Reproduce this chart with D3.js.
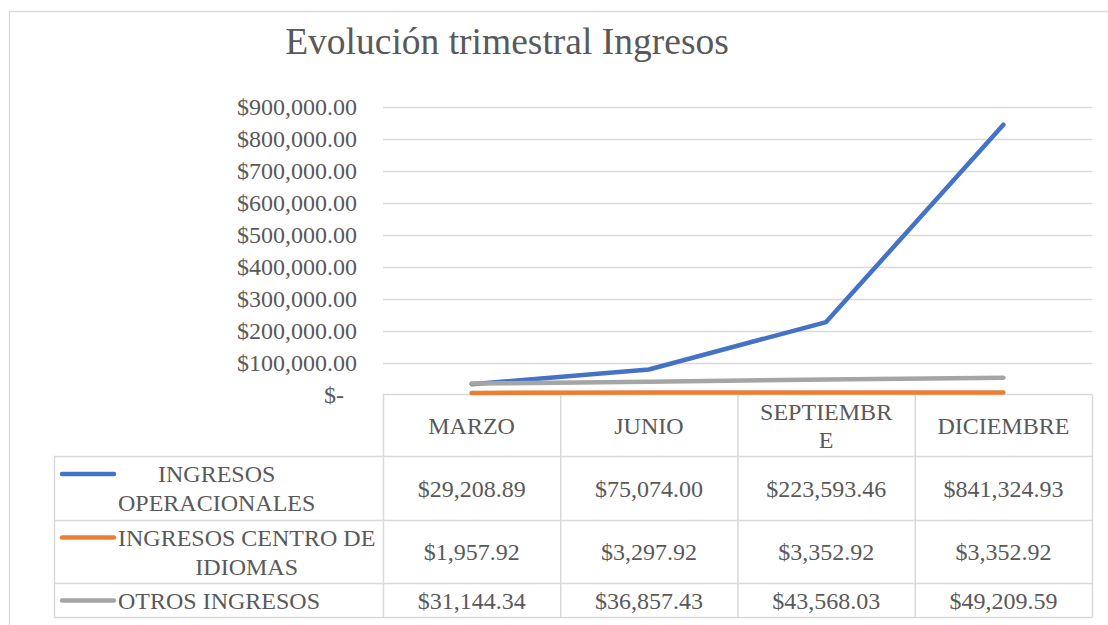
<!DOCTYPE html>
<html>
<head>
<meta charset="utf-8">
<script src="https://cdn.jsdelivr.net/npm/d3@7"></script>
<style>
  body { margin: 0; background: #fff; }
  text { font-family: "Liberation Serif", "Times New Roman", serif; fill: #595959; }
</style>
</head>
<body>
<script>
'use strict';

var width = 1108,
    height = 625;

// data
var categories = ["MARZO", "JUNIO", "SEPTIEMBRE", "DICIEMBRE"];
var seriesNames = ["INGRESOS OPERACIONALES", "INGRESOS CENTRO DE IDIOMAS", "OTROS INGRESOS"];
var seriesColors = ["#4472C4", "#ED7D31", "#A5A5A5"];
var operacionales = [29208.89, 75074.00, 223593.46, 841324.93];
var centroIdiomas = [1957.92, 3297.92, 3352.92, 3352.92];
var otrosIngresos = [31144.34, 36857.43, 43568.03, 49209.59];
var yTicks = [0, 100000, 200000, 300000, 400000, 500000, 600000, 700000, 800000, 900000];
var series = [operacionales, centroIdiomas, otrosIngresos];

var plotLeft = 383, plotRight = 1092,
    plotTop = 107, plotBottom = 394.5;
var rowEdges = [394.5, 456.5, 520.5, 583.5, 617.5];
var legendLeft = 54;
var grid = "#D9D9D9";
var fs = "24px";

var svg = d3.select("body").append("svg")
  .attr("width", width)
  .attr("height", height);

// chart area border
svg.append("rect")
  .attr("x", 9.5).attr("y", 11.5)
  .attr("width", 1120).attr("height", 640)
  .attr("fill", "none")
  .attr("stroke", grid)
  .attr("stroke-width", 1.3);

// title
svg.append("text")
  .attr("x", 507).attr("y", 54)
  .attr("text-anchor", "middle")
  .style("font-size", "37.5px")
  .text("Evolución trimestral Ingresos");

var x = d3.scaleBand()
  .domain(categories)
  .range([plotLeft, plotRight]);

var y = d3.scaleLinear()
  .domain([0, 900000])
  .range([plotBottom, plotTop]);

// gridlines
svg.append("g")
  .selectAll("line")
  .data(yTicks.filter(function(d) { return d > 0; }))
  .enter().append("line")
  .attr("x1", plotLeft).attr("x2", plotRight)
  .attr("y1", function(d) { return Math.round(y(d)) + 0.5; })
  .attr("y2", function(d) { return Math.round(y(d)) + 0.5; })
  .attr("stroke", grid)
  .attr("stroke-width", 1.5);

// y axis
var fmt = d3.format("$,.2f");
var yAxis = d3.axisLeft(y)
  .tickValues(yTicks)
  .tickSize(0)
  .tickPadding(0)
  .tickFormat(function(d) { return d === 0 ? "$-" : fmt(d); });

var gy = svg.append("g")
  .attr("transform", "translate(357,0)")
  .call(yAxis);
gy.select(".domain").remove();
gy.selectAll("text")
  .style("font-family", null)
  .style("font-size", fs)
  .attr("fill", "#595959")
  .attr("dx", function(d) { return d === 0 ? -13 : 0; });

// data table
var table = svg.append("g");

// horizontal rules
rowEdges.forEach(function(r, i) {
  table.append("line")
    .attr("x1", i === 0 ? plotLeft : legendLeft)
    .attr("x2", plotRight)
    .attr("y1", r).attr("y2", r)
    .attr("stroke", grid).attr("stroke-width", 1.5);
});
// vertical rules
var colEdges = categories.map(function(c) { return x(c); }).concat([plotRight]);
colEdges.forEach(function(c) {
  table.append("line")
    .attr("x1", c + 0.5).attr("x2", c + 0.5)
    .attr("y1", rowEdges[0]).attr("y2", rowEdges[4])
    .attr("stroke", grid).attr("stroke-width", 1.5);
});
table.append("line")
  .attr("x1", legendLeft + 0.5).attr("x2", legendLeft + 0.5)
  .attr("y1", rowEdges[1]).attr("y2", rowEdges[4])
  .attr("stroke", grid).attr("stroke-width", 1.5);

// lines (on top of the table border)
var line = d3.line()
  .x(function(d, i) { return x(categories[i]) + x.bandwidth() / 2; })
  .y(function(d) { return y(d) - 1; });

svg.append("g")
  .selectAll("path")
  .data(series)
  .enter().append("path")
  .attr("d", line)
  .attr("fill", "none")
  .attr("stroke", function(d, i) { return seriesColors[i]; })
  .attr("stroke-width", 4.5)
  .attr("stroke-linecap", "round")
  .attr("stroke-linejoin", "round");

// wrap a string into lines that fit a width (by words, then by letters)
function wrap(str, maxW, probe) {
  var words = str.split(" "), lines = [], cur = "";
  function w(s) { probe.text(s); return probe.node().getComputedTextLength(); }
  words.forEach(function(word) {
    var t = cur ? cur + " " + word : word;
    if (w(t) <= maxW) { cur = t; return; }
    if (cur) lines.push(cur);
    cur = word;
    while (w(cur) > maxW) {
      var k = cur.length;
      while (k > 1 && w(cur.slice(0, k)) > maxW) k--;
      lines.push(cur.slice(0, k));
      cur = cur.slice(k);
    }
  });
  if (cur) lines.push(cur);
  probe.text("");
  return lines;
}

var probe = svg.append("text").style("font-size", fs);

// header cells
categories.forEach(function(c) {
  var lines = wrap(c, 140, probe);
  var gap = 28;
  var cy = (rowEdges[0] + rowEdges[1]) / 2 - (lines.length - 1) * gap / 2;
  lines.forEach(function(l, k) {
    table.append("text")
      .attr("x", x(c) + x.bandwidth() / 2)
      .attr("y", cy + k * gap)
      .attr("dy", "0.35em")
      .attr("text-anchor", "middle")
      .style("font-size", fs)
      .text(l);
  });
});

// rows: legend key, series name, values
var valFmt = d3.format("$,.2f");
series.forEach(function(s, i) {
  var top = rowEdges[i + 1], bot = rowEdges[i + 2];
  var lines = wrap(seriesNames[i], 266, probe);
  var widths = lines.map(function(l) { probe.text(l); return probe.node().getComputedTextLength(); });
  probe.text("");
  var boxW = d3.max(widths);
  var gap = 29;
  var cy = (top + bot) / 2 - (lines.length - 1) * gap / 2;

  table.append("line")
    .attr("x1", 62).attr("x2", 114)
    .attr("y1", cy).attr("y2", cy)
    .attr("stroke", seriesColors[i])
    .attr("stroke-width", 4.5)
    .attr("stroke-linecap", "round");

  lines.forEach(function(l, k) {
    table.append("text")
      .attr("x", 118 + boxW / 2)
      .attr("y", cy + k * gap)
      .attr("dy", "0.35em")
      .attr("text-anchor", "middle")
      .style("font-size", fs)
      .text(l);
  });

  s.forEach(function(v, j) {
    table.append("text")
      .attr("x", x(categories[j]) + x.bandwidth() / 2)
      .attr("y", (top + bot) / 2)
      .attr("dy", "0.35em")
      .attr("text-anchor", "middle")
      .style("font-size", fs)
      .text(valFmt(v));
  });
});
probe.remove();
</script>
</body>
</html>
